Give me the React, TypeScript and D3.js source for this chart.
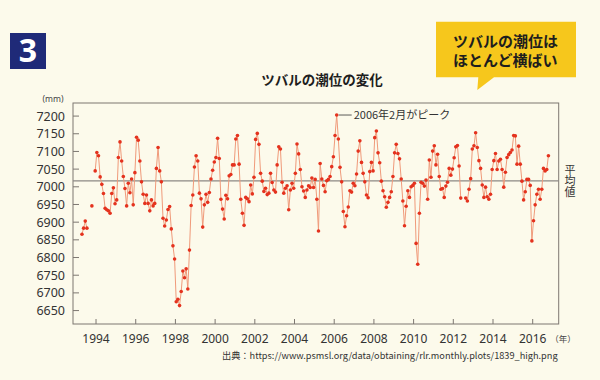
import React from 'react';
import * as d3 from 'd3';

// Monthly mean sea level at Funafuti (mm), Jan..Dec of each year; null = no data
const startYear = 1993;
const level1993 = [null, null, null, 6866, 6883, 6903, 6883, null, null, 6946, null, 7045];
const level1994 = [7097, 7088, 7028, 7007, 6981, 6939, 6935, 6932, 6925, 6981, 6997, 6952];
const level1995 = [6963, 7083, 7127, 7073, 7029, 6995, 6946, 7010, 6983, 7022, 6949, 7040];
const level1996 = [7140, 7132, 7073, 7014, 6979, 6953, 6977, 6953, 6932, 6963, 6946, 6953];
const level1997 = [7052, 7111, 7045, 7014, 6911, 6889, 6906, 6936, 6944, 6881, 6833, 6796];
const level1998 = [6675, 6682, 6664, 6704, 6762, 6743, 6768, 6711, 6821, 6947, 6977, 7056];
const level1999 = [7088, 7073, 6982, 6966, 6886, 6949, 6979, 6956, 6984, 7022, 7047, 7070];
const level2000 = [7083, 7137, 7080, 6965, 6937, 6909, 6976, 6966, 7031, 7035, 7062, 7062];
const level2001 = [7135, 7145, 7064, 6965, 6925, 6891, 6970, 6966, 6958, 7005, 6980, 7027];
const level2002 = [7134, 7151, 7120, 7038, 7016, 6987, 6996, 6978, 6982, 7038, 7012, 6991];
const level2003 = [6985, 7062, 7113, 7107, 7013, 6982, 6996, 7003, 6935, 6991, 7010, 6996];
const level2004 = [7038, 7121, 7093, 7049, 7000, 6988, 6970, 6991, 7003, 6998, 7025, 6998];
const level2005 = [7021, 6965, 6875, 7066, 7022, 7004, 6986, 7017, 7021, 7029, 7057, 7085];
const level2006 = [7145, 7203, 7135, 7055, 7014, 6930, 6887, 6918, 6943, 6989, 6985, 7010];
const level2007 = [7003, 7036, 7101, 7130, 7069, 7038, 7014, 6977, 6969, 7043, 7069, 7045];
const level2008 = [7139, 7158, 7096, 7068, 7016, 6989, 6972, 6942, 6956, 6970, 6986, 7029];
const level2009 = [7096, 7120, 7094, 7079, 7022, 6960, 6890, 6945, 6989, 6970, 7000, 7004];
const level2010 = [7010, 6840, 6781, 6925, 7013, 7010, 7002, 7019, 6965, 7076, 7027, 7101];
const level2011 = [7116, 7062, 7092, 7029, 6993, 6995, 6970, 7002, 7013, 7052, 7033, 7050];
const level2012 = [7082, 7113, 7117, 7059, 6968, null, null, 6968, 6960, 6993, 7023, 7107];
const level2013 = [7116, 7153, 7111, 7074, 7052, 7005, 6970, 6999, 6972, 6965, 6979, 7049];
const level2014 = [7074, 7094, 7049, 7073, 7078, 7049, 6999, 7041, 7083, 7091, 7097, 7104];
const level2015 = [7145, 7144, 7064, 7115, 7064, 7016, 6963, 6986, 7021, 7021, 7004, 6847];
const level2016 = [6904, 6949, 6979, 6993, 6965, 6993, 7052, 7045, 7049, 7088];

const yTicks = [6650, 6700, 6750, 6800, 6850, 6900, 6950, 7000, 7050, 7100, 7150, 7200];
const xTicks = [1994, 1996, 1998, 2000, 2002, 2004, 2006, 2008, 2010, 2012, 2014, 2016];
const meanLevel = 7017;

const title = 'ツバルの潮位の変化';
const peakLabel = '2006年2月がピーク';
const calloutLines = ['ツバルの潮位は', 'ほとんど横ばい'];
const meanLabel = '平均値';
const sourceText = '出典：https://www.psmsl.org/data/obtaining/rlr.monthly.plots/1839_high.png';

type Pt = { t: number; v: number | null };

export default function App() {
  const years = [
    level1993, level1994, level1995, level1996, level1997, level1998, level1999, level2000,
    level2001, level2002, level2003, level2004, level2005, level2006, level2007, level2008,
    level2009, level2010, level2011, level2012, level2013, level2014, level2015, level2016,
  ];
  const series: Pt[] = years.flatMap((arr, yi) =>
    arr.map((v, m) => ({ t: startYear + yi + (m + 0.5) / 12, v }))
  );
  const defined = series.filter((d) => d.v != null) as { t: number; v: number }[];

  const left = 73, right = 558.7, top = 103, bottom = 324;
  const x = d3.scaleLinear().domain([1992.84, 2017.31]).range([left, right]);
  const y = d3.scaleLinear().domain([6612, 7237]).range([bottom, top]);

  const line = d3
    .line<Pt>()
    .defined((d) => d.v != null)
    .x((d) => x(d.t))
    .y((d) => y(d.v as number));

  const peak = defined.reduce((a, b) => (b.v > a.v ? b : a));
  const px = x(peak.t), py = y(peak.v);

  const axisColor = '#7d7771';
  const jp = '"Noto Sans CJK JP", "Noto Sans", sans-serif';
  const num = '"Noto Sans", "Liberation Sans", sans-serif';

  return (
    <svg
      width={600}
      height={380}
      style={{ position: 'absolute', left: 0, top: 0, display: 'block' }}
    >
      <rect x={0} y={0} width={600} height={380} fill="#fcfaeb" />

      {/* badge */}
      <rect x={10} y={33} width={36} height={36} fill="#1f2a78" />
      <text x={28} y={62} textAnchor="middle" fill="#ffffff" fontFamily={num} fontWeight="bold" fontSize={32}>
        3
      </text>

      {/* callout */}
      <path
        d="M436,21.7 L576,21.7 L576,77.3 L494,77.3 L477.3,90 L478.3,77.3 L436,77.3 Z"
        fill="#f6c71c"
      />
      {calloutLines.map((s, i) => (
        <text key={i} x={453} y={47 + i * 19} fill="#1e1e1e" fontFamily={jp} fontWeight="bold" fontSize={15}>
          {s}
        </text>
      ))}

      {/* title */}
      <text x={322} y={85} textAnchor="middle" fill="#1e1e1e" fontFamily={jp} fontWeight="bold" fontSize={13.5}>
        {title}
      </text>

      {/* frame */}
      <rect x={left} y={top} width={right - left} height={bottom - top} fill="none" stroke={axisColor} strokeWidth={1} />

      {/* mean line */}
      <line x1={left} x2={right} y1={y(meanLevel)} y2={y(meanLevel)} stroke="#8c8884" strokeWidth={1.2} />

      {/* y axis */}
      {yTicks.map((t) => (
        <g key={t}>
          <line x1={left} x2={left + 6} y1={y(t)} y2={y(t)} stroke={axisColor} />
          <text x={65} y={y(t) + 4.5} textAnchor="end" fill="#333" fontFamily={num} fontSize={12.5}>
            {t}
          </text>
        </g>
      ))}
      <text x={53} y={102} textAnchor="middle" fill="#444" fontFamily={num} fontSize={8.5}>
        (mm)
      </text>

      {/* x axis */}
      {xTicks.map((t) => (
        <g key={t}>
          <line x1={x(t)} x2={x(t)} y1={bottom} y2={bottom - 5} stroke={axisColor} />
          <text x={x(t)} y={343} textAnchor="middle" fill="#333" fontFamily={num} fontSize={12}>
            {t}
          </text>
        </g>
      ))}
      <text x={563} y={342} textAnchor="middle" fill="#444" fontFamily={jp} fontSize={8.5}>
        （年）
      </text>

      {/* mean label, vertical */}
      <text
        x={570}
        y={164}
        fill="#333"
        fontFamily={jp}
        fontSize={11}
        style={{ writingMode: 'vertical-rl', letterSpacing: '0px' }}
      >
        {meanLabel}
      </text>

      {/* data */}
      <path d={line(series) || ''} fill="none" stroke="#f09a7a" strokeWidth={1} />
      {defined.map((d, i) => (
        <circle key={i} cx={x(d.t)} cy={y(d.v)} r={1.8} fill="#e4321e" />
      ))}

      {/* peak annotation */}
      <line x1={px + 2} x2={px + 15} y1={py} y2={py} stroke="#333" strokeWidth={0.8} />
      <text x={px + 17} y={py + 4} fill="#333" fontFamily={jp} fontSize={11}>
        {peakLabel}
      </text>

      {/* source */}
      <text x={222} y={359} fill="#333" fontFamily={jp} fontSize={9.2}>
        {sourceText}
      </text>
    </svg>
  );
}
